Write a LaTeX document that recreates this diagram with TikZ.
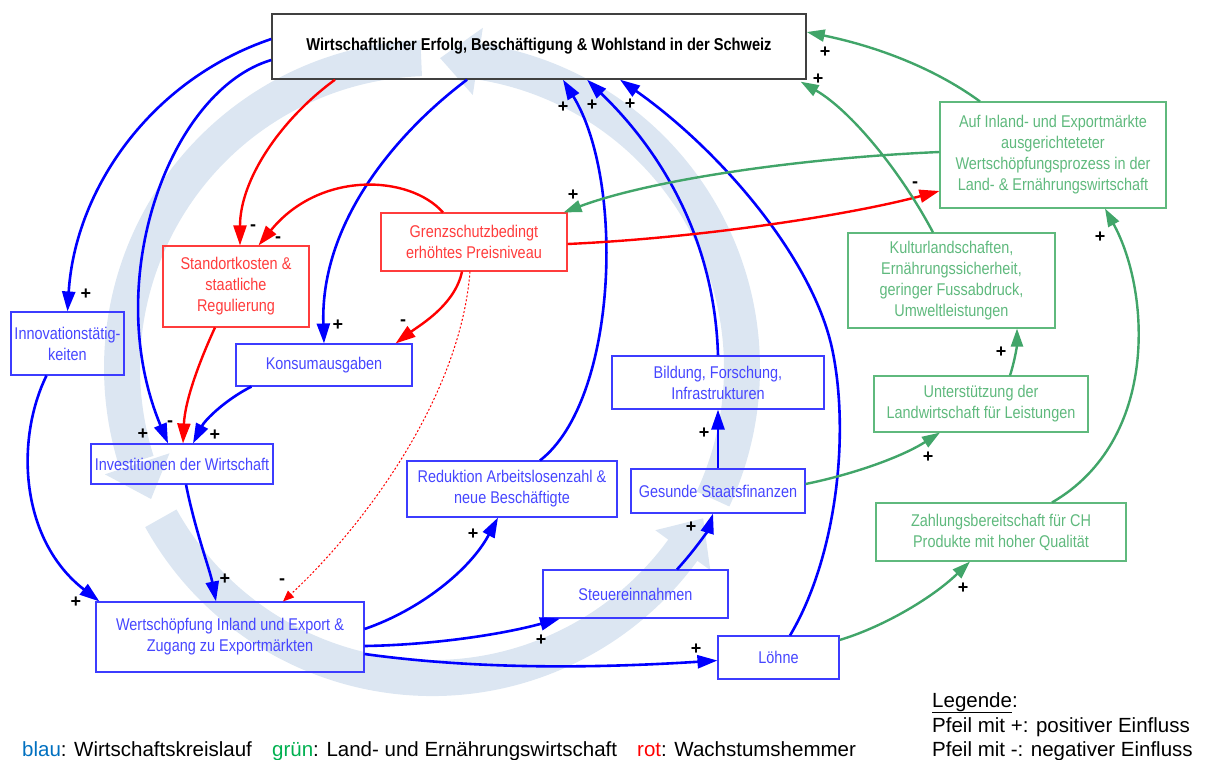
\documentclass[tikz,border=0pt]{standalone}
\usepackage{fontspec}
\setmainfont{Liberation Sans}
\newfontfamily\nodefont[FakeStretch=0.85]{Liberation Sans}
\usetikzlibrary{arrows.meta}
\definecolor{bandblue}{RGB}{220,230,242}
\definecolor{boxblue}{RGB}{60,60,255}
\definecolor{txtblue}{RGB}{70,70,255}
\definecolor{boxred}{RGB}{255,60,60}
\definecolor{boxgreen}{RGB}{95,185,125}
\definecolor{arrgreen}{RGB}{65,165,105}
\definecolor{titlegray}{RGB}{64,64,64}
\definecolor{legblue}{RGB}{0,112,192}
\definecolor{leggreen}{RGB}{0,176,80}
\begin{document}
\begin{tikzpicture}[x=1pt,y=-1pt,
  box/.style={draw, rectangle, inner sep=0pt, align=center, line width=1.1pt,
    font=\nodefont\fontsize{17}{21}\selectfont},
  bluebox/.style={box, draw=boxblue, text=txtblue},
  redbox/.style={box, draw=boxred, text=boxred},
  greenbox/.style={box, draw=boxgreen, text=boxgreen},
  barrow/.style={draw=blue, line width=2.6pt, -{Triangle[length=20pt,width=13pt]}},
  rarrow/.style={draw=red, line width=2.4pt, -{Triangle[length=20pt,width=13pt]}},
  rdot/.style={draw=red, line width=1pt, dash pattern=on 2pt off 2pt, -{Triangle[length=11pt,width=9pt]}},
  garrow/.style={draw=arrgreen, line width=2.4pt, -{Triangle[length=18pt,width=12pt]}},
  sign/.style={font=\bfseries\fontsize{18}{18}\selectfont, inner sep=0pt, text=black},
  band/.style={draw=bandblue, line width=36pt},
  bandhead/.style={fill=bandblue},
  legtxt/.style={anchor=base west, inner sep=0pt, font=\fontsize{20.5}{24}\selectfont}
]
\useasboundingbox (0,0) rectangle (1207,760);

% background cycle band
\coordinate (cc) at (432,368);
\draw[band] (cc) ++(25:310) arc[start angle=25, end angle=-82, radius=310];
\fill[bandhead] ([shift={(-81.5:344)}]cc) -- ([shift={(-88.5:310)}]cc) -- ([shift={(-81.5:276)}]cc) -- cycle;
\draw[band] (cc) ++(-92:310) arc[start angle=-92, end angle=-197.5, radius=310];
\fill[bandhead] ([shift={(-198:344)}]cc) -- ([shift={(-205:310)}]cc) -- ([shift={(-198:276)}]cc) -- cycle;
\draw[band] (cc) ++(151:310) arc[start angle=151, end angle=35.5, radius=310];
\fill[bandhead] ([shift={(36:344)}]cc) -- ([shift={(29:310)}]cc) -- ([shift={(36:276)}]cc) -- cycle;

% nodes
\node[box, draw=titlegray, text=black, line width=1.4pt,
  font=\nodefont\bfseries\fontsize{17.2}{21}\selectfont,
  minimum width=534pt, minimum height=65pt] (w) at (539,46.5)
  {Wirtschaftlicher Erfolg, Beschäftigung \& Wohlstand in der Schweiz};
\node[redbox, minimum width=146pt, minimum height=81pt] (stand) at (236,286.5)
  {Standortkosten \&\\staatliche\\Regulierung};
\node[redbox, minimum width=186pt, minimum height=58pt] (grenz) at (474,242)
  {Grenzschutzbedingt\\erhöhtes Preisniveau};
\node[bluebox, minimum width=113pt, minimum height=63pt] (inn) at (67.5,343.5)
  {Innovationstätig-\\keiten};
\node[bluebox, minimum width=176pt, minimum height=42pt] (kons) at (324,365)
  {Konsumausgaben};
\node[bluebox, minimum width=182pt, minimum height=40pt] (inv) at (182,464)
  {Investitionen der Wirtschaft};
\node[bluebox, minimum width=268pt, minimum height=70pt] (wert) at (230,637)
  {Wertschöpfung Inland und Export \&\\Zugang zu Exportmärkten};
\node[bluebox, minimum width=210pt, minimum height=56pt] (red) at (512,489)
  {Reduktion Arbeitslosenzahl \&\\neue Beschäftigte};
\node[bluebox, minimum width=212pt, minimum height=53pt] (bild) at (718,382.5)
  {Bildung, Forschung,\\Infrastrukturen};
\node[bluebox, minimum width=174pt, minimum height=44pt] (ges) at (718,491)
  {Gesunde Staatsfinanzen};
\node[bluebox, minimum width=185pt, minimum height=48pt] (steu) at (635.5,594)
  {Steuereinnahmen};
\node[bluebox, minimum width=121pt, minimum height=43pt] (loehne) at (778.5,657.5)
  {Löhne};
\node[greenbox, minimum width=226pt, minimum height=106pt] (auf) at (1053,155)
  {Auf Inland- und Exportmärkte\\ausgerichteteter\\Wertschöpfungsprozess in der\\Land- \& Ernährungswirtschaft};
\node[greenbox, minimum width=207pt, minimum height=95pt] (kult) at (951.5,280.5)
  {Kulturlandschaften,\\Ernährungssicherheit,\\geringer Fussabdruck,\\Umweltleistungen};
\node[greenbox, minimum width=214pt, minimum height=56pt] (unter) at (981,404)
  {Unterstützung der\\Landwirtschaft für Leistungen};
\node[greenbox, minimum width=250pt, minimum height=58pt] (zahl) at (1001,532)
  {Zahlungsbereitschaft für CH\\Produkte mit hoher Qualität};

% blue connectors
\draw[barrow] ([yshift=7.5pt]w.west) .. controls (150,80) and (75,190) .. (inn.north);
\draw[barrow] ([yshift=-13.5pt]w.west) .. controls (170,90) and (100,280) .. ([xshift=-14pt]inv.north);
\draw[barrow] ([xshift=-72pt]w.south) .. controls (400,130) and (320,220) .. (kons.north);
\draw[barrow] ([xshift=16pt]kons.south west) .. controls (225,400) and (205,420) .. ([xshift=11pt]inv.north);
\draw[barrow] ([xshift=4pt]inv.south) .. controls (195,530) and (210,570) .. ([xshift=-14pt]wert.north);
\draw[barrow] ([xshift=-21pt]inn.south) .. controls (15,440) and (20,540) .. ([xshift=4pt]wert.north west);
\draw[barrow] ([yshift=8pt]wert.east) .. controls (420,610) and (470,570) .. ([xshift=-14pt]red.south);
\draw[barrow] ([yshift=-9pt]wert.east) .. controls (430,645) and (500,635) .. ([xshift=-75.5pt]steu.south);
\draw[barrow] ([yshift=-17pt]wert.east) .. controls (480,670) and (600,668) .. ([yshift=-3pt]loehne.west);
\draw[barrow] ([xshift=41.5pt]steu.north) .. controls (695,550) and (708,530) .. ([xshift=-5pt]ges.south);
\draw[barrow] (ges.north) -- (bild.south);
\draw[barrow] ([xshift=28pt]red.north) .. controls (618,400) and (625,180) .. ([xshift=24pt]w.south);
\draw[barrow] (bild.north) .. controls (715,250) and (670,160) .. ([xshift=48pt]w.south);
\draw[barrow] ([xshift=11.5pt]loehne.north) .. controls (835,560) and (850,440) .. (833,353)
  .. controls (815,260) and (720,150) .. ([xshift=81pt]w.south);

% red connectors
\draw[rarrow] ([xshift=-204pt]w.south) .. controls (280,120) and (240,180) .. ([xshift=4pt]stand.north);
\draw[rarrow] ([xshift=-31pt]grenz.north) .. controls (410,175) and (320,170) .. ([xshift=-51pt]stand.north east);
\draw[rarrow] ([xshift=-21pt]stand.south) .. controls (200,360) and (185,400) .. ([xshift=1pt]inv.north);
\draw[rarrow] ([xshift=-12pt]grenz.south) .. controls (455,305) and (420,325) .. ([xshift=-17pt]kons.north east);
\draw[rarrow] ([yshift=-2pt]grenz.east) .. controls (700,238) and (850,215) .. ([yshift=-36pt]auf.west);
\draw[rdot] ([xshift=-4pt]grenz.south) .. controls (460,400) and (360,530) .. ([xshift=53pt]wert.north);

% green connectors
\draw[garrow] ([xshift=-73pt]auf.north) .. controls (930,65) and (870,45) .. ([yshift=14.5pt]w.east);
\draw[garrow] ([xshift=-18.5pt]kult.north) .. controls (900,170) and (850,110) .. ([xshift=-6pt,yshift=-2pt]w.south east);
\draw[garrow] ([yshift=3pt]auf.west) .. controls (800,158) and (650,180) .. ([xshift=-4pt]grenz.north east);
\draw[garrow] ([xshift=29pt]unter.north) .. controls (1015,360) and (1017,345) .. ([xshift=65.5pt]kult.south);
\draw[garrow] ([yshift=7pt]ges.east) .. controls (850,475) and (900,458) .. ([xshift=-41pt]unter.south);
\draw[garrow] ([yshift=17.5pt]loehne.east) .. controls (880,628) and (930,600) .. ([xshift=-31pt]zahl.south);
\draw[garrow] ([xshift=51pt]zahl.north) .. controls (1160,440) and (1150,290) .. ([xshift=52pt]auf.south);

% signs
\node[sign] (s1) at (86,294) {+};
\node[sign] (s2) at (143,434) {+};
\node[sign] (s3) at (170,424) {-};
\node[sign] (s4) at (215,435) {+};
\node[sign] (s5) at (338,325) {+};
\node[sign] (s6) at (403,323) {-};
\node[sign] (s7) at (253,228) {-};
\node[sign] (s8) at (278,240) {-};
\node[sign] (s9) at (225,579) {+};
\node[sign] (s10) at (76,602) {+};
\node[sign] (s11) at (282,582) {-};
\node[sign] (s12) at (473,534) {+};
\node[sign] (s13) at (541,640) {+};
\node[sign] (s14) at (696,649) {+};
\node[sign] (s15) at (691,527) {+};
\node[sign] (s16) at (704,433) {+};
\node[sign] (s17) at (563,107) {+};
\node[sign] (s18) at (592,105) {+};
\node[sign] (s19) at (630,104) {+};
\node[sign] (s20) at (825,52) {+};
\node[sign] (s21) at (818,79) {+};
\node[sign] (s22) at (573,195) {+};
\node[sign] (s23) at (915,185) {-};
\node[sign] (s24) at (1001,352) {+};
\node[sign] (s25) at (928,457) {+};
\node[sign] (s26) at (963,588) {+};
\node[sign] (s27) at (1100,237) {+};

% legends
\node[legtxt] (l1) at (22,756) {\textcolor{legblue}{blau}: Wirtschaftskreislauf};
\node[legtxt] (l2) at (272,756) {\textcolor{leggreen}{grün}: Land- und Ernährungswirtschaft};
\node[legtxt] (l3) at (637,756) {\textcolor{red}{rot}: Wachstumshemmer};
\node[legtxt] (l4) at (932,707) {\underline{Legende}:};
\node[legtxt] (l5) at (932,732) {Pfeil mit +: positiver Einfluss};
\node[legtxt] (l6) at (932,756) {Pfeil mit -: negativer Einfluss};
\end{tikzpicture}
\end{document}
